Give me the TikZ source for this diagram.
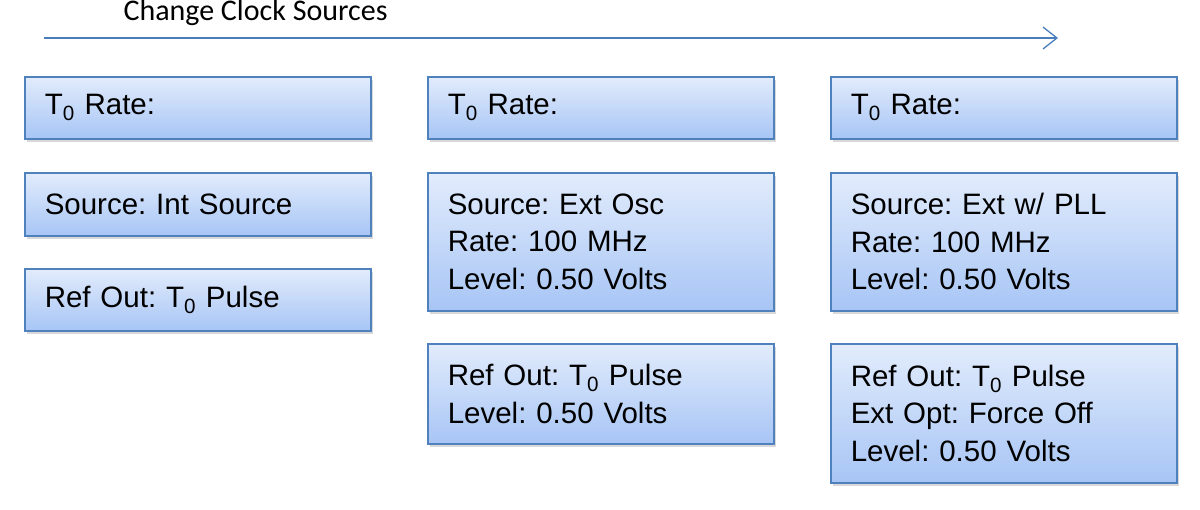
\documentclass[tikz,border=0pt]{standalone}
\usepackage{fontspec}
\setmainfont{Liberation Sans}
\newfontfamily\titlefont{Carlito}
\usetikzlibrary{shadows,arrows.meta}
\tikzset{
  stbox/.style={draw=boxedge, line width=1.5pt, top color=boxtop, bottom color=boxbot,
    anchor=north west, minimum width=346pt, text width=306pt, inner xsep=20pt,
    align=left, drop shadow={opacity=0.3, shadow xshift=2pt, shadow yshift=-3pt},
    font=\fontsize{29.5}{37.5}\selectfont},
}
\definecolor{boxedge}{HTML}{4F81BD}
\definecolor{boxtop}{HTML}{E2ECFC}
\definecolor{boxbot}{HTML}{A7C5F5}
\definecolor{arrowcol}{HTML}{4A7EBB}
\begin{document}
\frenchspacing
\begin{tikzpicture}[x=1pt, y=-1pt]
\useasboundingbox (0,0) rectangle (1200,509);

% arrow and title
\coordinate (astart) at (44,38);
\coordinate (aend) at (1058,38);
\draw[arrowcol, line width=1.3pt, -{Straight Barb[length=14pt,width=22pt]}] (astart) -- (aend);
\node[anchor=west, font=\titlefont\fontsize{30}{36}\selectfont] (title) at (120,13) {Change Clock Sources};

% column 1
\node[stbox, minimum height=62pt] (rate1) at (24,76) {T\textsubscript{0} Rate:};
\node[stbox, minimum height=63pt] (src1) at (24,172) {Source: Int Source};
\node[stbox, minimum height=62pt] (ref1) at (24,268) {Ref Out: T\textsubscript{0} Pulse};

% column 2
\node[stbox, minimum height=62pt] (rate2) at (427,76) {T\textsubscript{0} Rate:};
\node[stbox, minimum height=138pt] (src2) at (427,172) {Source: Ext Osc\\Rate: 100 MHz\\Level: 0.50 Volts};
\node[stbox, minimum height=100pt] (ref2) at (427,343) {Ref Out: T\textsubscript{0} Pulse\\Level: 0.50 Volts};

% column 3
\node[stbox, minimum height=62pt] (rate3) at (830,76) {T\textsubscript{0} Rate:};
\node[stbox, minimum height=138pt] (src3) at (830,172) {Source: Ext w/ PLL\\Rate: 100 MHz\\Level: 0.50 Volts};
\node[stbox, minimum height=139pt] (ref3) at (830,343) {Ref Out: T\textsubscript{0} Pulse\\Ext Opt: Force Off\\Level: 0.50 Volts};
\end{tikzpicture}
\end{document}
